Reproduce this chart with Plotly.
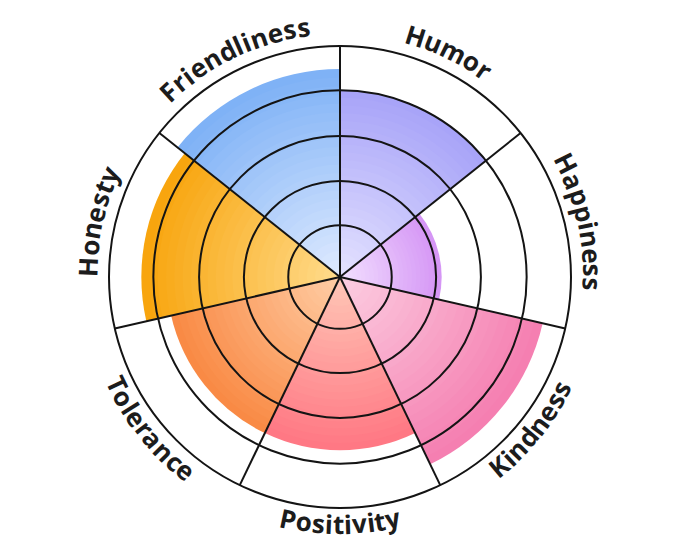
import math
import plotly.graph_objects as go

# ---------------- data ----------------
categories = ["Humor", "Happiness", "Kindness", "Positivity", "Tolerance", "Honesty", "Friendliness"]
values = [81, 44, 90, 75, 75, 86, 90]
ring_values = [22.4, 41.6, 61.0, 80.8]
radial_max = 100

outer_colors = ["#a8a4f8", "#d596f5", "#f57fb1", "#ff7884", "#f98a45", "#f8a50e", "#7fb2f6"]
inner_colors = ["#e6e4ff", "#f3e2ff", "#fcd0e2", "#ffc9b8", "#ffcfa8", "#ffdd90", "#e2ecff"]

# ---------------- layout helpers ----------------
PAGE_OFF = 8                      # default body margin of the html page
W_PX, H_PX = 680 - 2 * PAGE_OFF, 557 - 2 * PAGE_OFF
CX, CY, R_OUT = 340 - PAGE_OFF, 277 - PAGE_OFF, 231
LINE = "#141414"
TXT = "#1c1c1c"
FS = 26
TRACK = 0.8
N_STEPS = 24
# (mid radius, baseline radius) for labels with tops outward / inward
R_TOP = (253, 244)
R_BOT = (247, 256)


def hex2rgb(h):
    h = h.lstrip("#")
    return tuple(int(h[i:i + 2], 16) for i in (0, 2, 4))


def mix(c1, c2, t):
    a, b = hex2rgb(c1), hex2rgb(c2)
    return "rgb(%d,%d,%d)" % tuple(round(a[i] + (b[i] - a[i]) * t) for i in range(3))


n = len(categories)
step = 360.0 / n
theta_centers = [step * (i + 0.5) for i in range(n)]
boundaries = [step * i for i in range(n)]

fig = go.Figure()

# gradient-filled bars (overlaid layers, outermost first)
for k in range(N_STEPS):
    frac = 1 - k / N_STEPS
    fig.add_trace(go.Barpolar(
        r=[v * frac for v in values],
        theta=theta_centers,
        width=[step] * n,
        marker=dict(color=[mix(inner_colors[i], outer_colors[i], frac) for i in range(n)],
                    line=dict(width=0)),
        subplot="polar",
        hoverinfo="skip",
        showlegend=False,
    ))

# invisible trace so the grid overlay subplot is drawn
fig.add_trace(go.Scatterpolar(
    r=values, theta=theta_centers, mode="markers",
    marker=dict(opacity=0), subplot="polar2", hoverinfo="skip", showlegend=False))

dom_x = [(CX - R_OUT) / W_PX, (CX + R_OUT) / W_PX]
dom_y = [1 - (CY + R_OUT) / H_PX, 1 - (CY - R_OUT) / H_PX]

common_ang = dict(direction="clockwise", rotation=90, type="linear", thetaunit="degrees",
                  showticklabels=False, ticks="")

fig.update_layout(
    width=W_PX, height=H_PX, autosize=False,
    margin=dict(l=0, r=0, t=0, b=0),
    paper_bgcolor="white",
    polar=dict(
        domain=dict(x=dom_x, y=dom_y),
        bgcolor="white",
        barmode="overlay",
        radialaxis=dict(range=[0, radial_max], showgrid=False, showline=False,
                        showticklabels=False, ticks=""),
        angularaxis=dict(showgrid=False, showline=False, **common_ang),
    ),
    polar2=dict(
        domain=dict(x=dom_x, y=dom_y),
        bgcolor="rgba(0,0,0,0)",
        radialaxis=dict(range=[0, radial_max], tickvals=ring_values, showticklabels=False,
                        ticks="", showline=False, gridcolor=LINE, gridwidth=2),
        angularaxis=dict(tickvals=boundaries, showgrid=True, gridcolor=LINE, gridwidth=2,
                         showline=True, linecolor=LINE, linewidth=2, **common_ang),
    ),
)

# curved category labels, one character at a time
ADV = {"F": .573, "H": .745, "K": .657, "P": .627, "T": .556,
       "a": .590, "c": .501, "d": .608, "e": .576, "i": .285, "l": .285, "m": .931,
       "n": .617, "o": .604, "p": .608, "r": .434, "s": .497, "t": .402, "u": .617,
       "v": .553, "y": .553, "h": .617}

annotations = []
for lab, th in zip(categories, theta_centers):
    phi_c = math.radians(90 - th)
    top = math.sin(phi_c) > -0.3
    r_mid, r_base = R_TOP if top else R_BOT
    widths = [ADV.get(ch, 0.58) * FS + TRACK for ch in lab]
    L = sum(widths) - TRACK
    s = 0.0
    for ch, w in zip(lab, widths):
        mid = s + (w - TRACK) / 2
        off = (L / 2 - mid) / r_base
        phi = phi_c + off if top else phi_c - off
        x = CX + r_mid * math.cos(phi)
        y = CY - r_mid * math.sin(phi)
        rot = 90 - math.degrees(phi) if top else -(math.degrees(phi) + 90)
        annotations.append(dict(
            x=x / W_PX, y=1 - y / H_PX, xref="paper", yref="paper",
            text=ch, showarrow=False, textangle=rot,
            xanchor="center", yanchor="middle",
            font=dict(family="Open Sans", size=FS, color=TXT, weight=700)))
        s += w

fig.update_layout(annotations=annotations)

fig.write_html("out.html")
